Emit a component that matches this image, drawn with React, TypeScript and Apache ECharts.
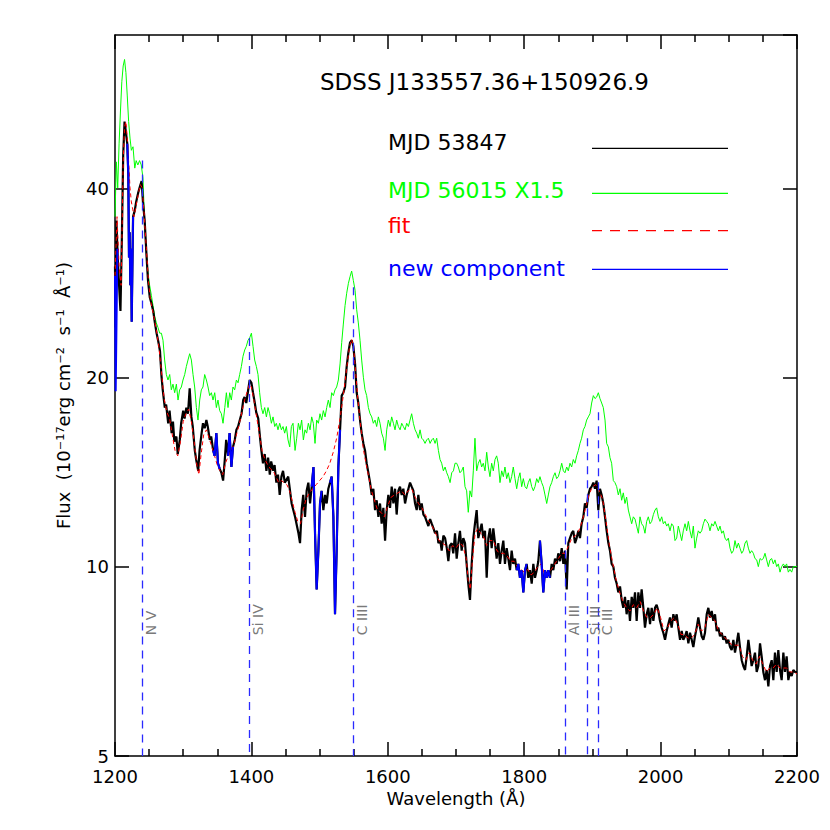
import React, { useEffect, useRef } from 'react';
import * as echarts from 'echarts';

// ---------------- DATA ----------------
const chartTitle = 'SDSS J133557.36+150926.9';
const legendLabels = ['MJD 53847', 'MJD 56015 X1.5', 'fit', 'new component'];
const xAxisName = 'Wavelength (Å)';
const yAxisName = 'Flux  (10⁻¹⁷erg cm⁻²  s⁻¹  Å⁻¹)';

// emission line markers
const lineNames = ['N V', 'Si IV', 'C IIII', 'Al III', 'Si III', 'C III'];
const lineWaves = [1240, 1397, 1549, 1860, 1892, 1909];
const lineTops = [44.2, 23.1, 27.8, 13.7, 16.0, 17.6];

// MJD 53847 spectrum [wavelength (Å), flux]
const blackSpectrum: [number, number][] = [
  [1200, 30], [1201, 24], [1202, 35.5], [1204, 31], [1206, 28], [1208, 25.5], [1210, 33], [1212, 45], [1214, 51], [1216, 49],
  [1218, 47], [1219.5, 42], [1220.5, 31], [1221.5, 34], [1222.5, 28], [1223.5, 32], [1224.5, 24.5], [1225.5, 30], [1226.5, 36],
  [1229, 36.8], [1231, 38], [1234, 39.3], [1236, 40], [1239, 41], [1241, 38], [1243.5, 35.5], [1246, 31.5], [1248.4, 28.5],
  [1251, 26.8], [1253.5, 26.2], [1256, 25.5], [1258.5, 24.4], [1261, 23.5], [1263.5, 22.8], [1266, 22], [1268, 20.2], [1270, 19.1],
  [1273, 17.9], [1275, 18.1], [1278, 16.9], [1280, 17.7], [1283, 16.3], [1285, 17.0], [1287, 15.8], [1290, 16.1], [1292, 15.1],
  [1295, 15.9], [1297, 16.9], [1300, 17.7], [1302, 17.2], [1304.6, 17.9], [1307, 17.5], [1309.5, 19.2], [1312, 17.3], [1314, 16.7],
  [1317, 15.3], [1319, 14.8], [1322, 14.2], [1324, 15.3], [1327, 16.3], [1329, 16.9], [1331.5, 16.6], [1334, 17.1], [1336, 16.7],
  [1339, 15.9], [1341, 16.1], [1344, 15.3], [1346, 15.0], [1348.6, 16.3], [1351, 14.6], [1353.5, 14.3], [1356, 14.1], [1358.5, 13.7],
  [1361, 14.8], [1363, 15.9], [1365.7, 15.0], [1368, 16.3], [1370.7, 14.4], [1373, 15.5], [1375.6, 15.9], [1378, 16.5], [1380.5, 16.7],
  [1383, 17.1], [1385.5, 17.5], [1388, 18.4], [1390, 18.6], [1392.5, 18.2], [1395, 19.0], [1397.5, 19.8], [1400, 19.6], [1402.4, 18.9],
  [1405, 18.2], [1407, 17.6], [1410, 17.2], [1412, 16.3], [1414.6, 15.3], [1417, 14.6], [1419.5, 15.1], [1422, 14.2], [1424.5, 14.9],
  [1427, 14.0], [1429, 14.7], [1432, 14.2], [1434, 14.5], [1436.6, 13.6], [1439, 14.0], [1441.5, 13.0], [1444, 13.9], [1446.4, 14.2],
  [1449, 13.6], [1454, 13.9], [1459, 12.6], [1464, 12.0], [1469, 11.3], [1471.3, 10.9], [1473.7, 12.3], [1476, 13.0], [1478.6, 12.0],
  [1481, 13.2], [1483.5, 13.6], [1486, 12.6], [1488.4, 13.4], [1491, 14.4], [1493.3, 11.3], [1495.7, 9.2], [1498.2, 10.6], [1500.6, 12.6],
  [1503, 13.2], [1505.5, 12.3], [1508, 13.0], [1510.4, 12.6], [1512.8, 13.3], [1515.3, 13.6], [1517.7, 13.9], [1520.2, 12.0], [1522.6, 8.4],
  [1525, 10.6], [1527.5, 14.4], [1530, 16.5], [1532.4, 18.7], [1534.8, 18.9], [1537.3, 19.3], [1539.7, 20.8], [1542.2, 21.9], [1544.6, 22.7],
  [1547, 22.9], [1549.5, 22.4], [1552, 21.0], [1554.4, 18.9], [1556.8, 18.2], [1559.3, 17.1], [1561.7, 16.3], [1564.2, 15.7], [1566.6, 15.3],
  [1569, 14.6], [1571.5, 14.1], [1574, 13.6], [1576.4, 13.0], [1578.8, 13.3], [1581.3, 12.3], [1583.7, 12.75], [1586.2, 12.0], [1588.6, 12.6],
  [1591, 11.7], [1593.5, 12.4], [1596, 11.0], [1598.4, 12.3], [1600.8, 13.0], [1603.3, 12.4], [1605.7, 13.4], [1608.2, 12.6], [1610.6, 13.3],
  [1613, 12.1], [1615.5, 13.2], [1617.9, 13.4], [1620.4, 13.0], [1622.8, 13.3], [1625.3, 12.6], [1627.7, 13.0], [1630.2, 13.3], [1632.6, 13.6],
  [1635, 13.4], [1637.5, 13.2], [1640, 12.6], [1642.4, 12.3], [1644.8, 13.0], [1647.3, 12.3], [1649.7, 12.6], [1652.2, 12.1], [1654.6, 12.0],
  [1657, 11.8], [1659.5, 11.6], [1662, 11.9], [1664.4, 11.7], [1667, 11.5], [1669.3, 11.3], [1672, 11.4], [1674.2, 10.9], [1677, 11.0],
  [1679, 10.6], [1681.5, 11.2], [1684, 11.1], [1686.5, 10.7], [1688.8, 10.2], [1691, 10.8], [1693.7, 10.9], [1696, 10.5], [1698.6, 11.3],
  [1701, 10.3], [1703.4, 10.9], [1705.8, 11.4], [1708.3, 10.6], [1710.7, 11.1], [1713.2, 10.9], [1715.6, 10.1], [1718, 9.4], [1720.5, 8.85],
  [1723, 10.1], [1725.4, 11.1], [1727.8, 11.7], [1730.3, 12.3], [1732.7, 11.1], [1735.2, 11.4], [1737.6, 11.7], [1740, 11.1], [1742.5, 11.4],
  [1745, 9.6], [1747.4, 11.1], [1749.8, 11.5], [1752.3, 10.7], [1754.7, 11.5], [1757.2, 10.9], [1759.6, 10.3], [1762, 10.9], [1764.5, 10.1],
  [1767, 10.6], [1769.4, 11.0], [1771.8, 10.1], [1774.3, 10.7], [1776.7, 10.3], [1779.2, 9.87], [1781.6, 10.6], [1784, 10.1], [1786.5, 10.3],
  [1789, 9.87], [1791.4, 10.1], [1793.8, 9.6], [1796.3, 9.87], [1798.7, 9.1], [1801.2, 9.87], [1803.6, 10.1], [1806, 9.6], [1808.5, 9.87],
  [1811, 9.4], [1813.4, 10.1], [1815.8, 9.6], [1818.3, 9.87], [1820.7, 10.2], [1823.1, 11.0], [1825.6, 10.1], [1828, 9.1], [1830.5, 9.87],
  [1833, 9.6], [1835.4, 9.87], [1837.8, 9.6], [1840.3, 10.1], [1842.7, 9.87], [1845.2, 10.3], [1847.6, 10.1], [1850, 10.5], [1852.5, 10.2],
  [1855, 10.7], [1857.4, 10.1], [1859.8, 10.6], [1862.3, 9.2], [1864.7, 10.9], [1867.1, 11.1], [1869.6, 11.3], [1872, 11.4], [1874.5, 10.9],
  [1876.9, 11.1], [1879.4, 11.4], [1881.8, 11.1], [1884.2, 11.7], [1886.7, 12.0], [1889.1, 12.6], [1891.6, 12.4], [1894, 13.0], [1896.5, 13.3],
  [1898.9, 13.4], [1901.4, 13.6], [1903.8, 13.3], [1906.2, 13.7], [1908.7, 12.3], [1911.1, 13.3], [1913.6, 13.0], [1916, 12.6], [1918.5, 12.0],
  [1920.9, 11.4], [1923.4, 10.9], [1925.8, 10.6], [1928.2, 10.1], [1930.7, 10.0], [1933.1, 9.6], [1935.6, 9.4], [1938, 9.1], [1940.5, 9.3],
  [1942.9, 8.85], [1945.3, 8.6], [1947.8, 8.95], [1950.2, 8.4], [1952.7, 8.85], [1955.1, 8.2], [1957.6, 8.95], [1960, 8.6], [1962.5, 9.1],
  [1964.9, 8.2], [1967.4, 9.1], [1969.8, 8.6], [1972.2, 9.2], [1974.7, 8.6], [1977.1, 8.0], [1979.6, 8.4], [1982, 8.6], [1984.5, 8.1],
  [1986.9, 8.6], [1989.4, 8.2], [1991.8, 8.6], [1994.2, 8.7], [1996.7, 8.5], [1999.1, 8.2], [2001.6, 8.0], [2004, 7.85], [2006.5, 7.65],
  [2008.9, 7.9], [2011.3, 8.1], [2013.8, 8.3], [2016.2, 8.0], [2018.7, 8.4], [2021.1, 8.2], [2023.6, 8.4], [2026, 8.0], [2028.5, 7.65],
  [2030.9, 7.9], [2033.3, 7.65], [2035.8, 7.75], [2038.2, 7.9], [2040.7, 7.55], [2043.1, 7.85], [2045.6, 7.65], [2048, 7.45], [2050.4, 7.75],
  [2052.9, 8.0], [2055.3, 8.3], [2057.8, 8.0], [2060.2, 7.75], [2062.7, 7.65], [2065.1, 7.85], [2067.6, 8.4], [2070, 8.6], [2072.4, 8.3],
  [2074.9, 8.5], [2077.3, 8.2], [2079.8, 8.4], [2082.2, 7.9], [2084.7, 8.0], [2087.1, 7.75], [2089.6, 7.85], [2092, 7.65], [2094.4, 7.75],
  [2096.9, 7.55], [2099.3, 7.65], [2101.8, 7.45], [2104.2, 7.37], [2106.7, 7.65], [2109.1, 7.3], [2111.5, 7.55], [2114, 7.85], [2116.4, 7.45],
  [2118.9, 7.1], [2121.3, 6.95], [2123.8, 6.85], [2126.2, 7.2], [2128.7, 7.65], [2131.1, 7.3], [2133.5, 6.95], [2136, 7.1], [2138.4, 7.3],
  [2140.9, 6.8], [2143.3, 6.95], [2145.8, 7.55], [2148.2, 7.2], [2150.6, 6.8], [2153.1, 6.6], [2155.5, 6.85], [2158, 6.45], [2160.4, 6.95],
  [2162.9, 7.1], [2165.3, 6.6], [2167.7, 7.3], [2170.2, 6.8], [2172.6, 7.37], [2175.1, 6.85], [2177.5, 6.6], [2180, 7.3], [2182.4, 6.8],
  [2184.8, 7.2], [2187.3, 6.6], [2189.7, 6.8], [2192.2, 6.7], [2194.6, 6.85], [2197, 6.8], [2200, 6.8],
];

// MJD 56015 spectrum x1.5
const greenSpectrum: [number, number][] = [
  [1200, 36], [1202, 44], [1204, 40], [1206, 47], [1208, 53], [1210, 59], [1212, 62.5], [1214, 64], [1216, 61], [1218, 56],
  [1220, 51], [1222, 48], [1224, 45.9], [1226.4, 46.5], [1229, 43], [1231, 44.2], [1233.5, 43.5], [1236, 44.2], [1238.5, 43.5],
  [1241, 41.5], [1243.5, 35], [1246, 31.6], [1248.4, 29.3], [1250.8, 28.0], [1253.3, 27.0], [1255.7, 26.0], [1258.2, 25.0], [1260.6, 24.4],
  [1263, 24.0], [1265.5, 23.5], [1268, 23.5], [1270.4, 22.9], [1272.8, 21.3], [1275.3, 20.2], [1277.7, 19.8], [1280.2, 20.2], [1282.6, 19.1],
  [1285, 19.5], [1287.5, 18.9], [1290, 19.5], [1292.4, 18.4], [1294.8, 19.1], [1297.3, 19.3], [1299.7, 19.8], [1302.2, 20.2], [1304.6, 20.8],
  [1307, 21.3], [1309.5, 21.8], [1312, 21.3], [1314.4, 20.2], [1316.8, 19.3], [1319.3, 17.9], [1321.7, 17.1], [1324.2, 18.4], [1326.6, 19.1],
  [1329, 19.3], [1331.5, 20.2], [1334, 19.8], [1336.4, 19.3], [1338.8, 18.7], [1341.3, 18.9], [1343.7, 18.4], [1346.2, 18.9], [1348.6, 17.9],
  [1351, 18.4], [1353.5, 17.7], [1356, 17.5], [1358.4, 16.9], [1361, 17.9], [1363.3, 18.9], [1365.7, 17.9], [1368.2, 18.9], [1370.6, 18.4],
  [1373, 19.3], [1375.5, 19.1], [1378, 19.8], [1380.4, 19.6], [1382.8, 20.2], [1385.3, 20.8], [1387.7, 21.6], [1390.2, 22.1], [1392.6, 22.4],
  [1395, 22.9], [1397.5, 23.1], [1400, 23.5], [1402.4, 22.4], [1404.8, 21.3], [1407.3, 20.8], [1409.7, 20.2], [1412.1, 18.9], [1414.6, 17.9],
  [1417, 17.5], [1419.5, 17.9], [1422, 17.3], [1424.4, 17.9], [1426.8, 17.5], [1429.3, 16.9], [1431.7, 17.3], [1434.2, 16.7], [1436.6, 16.9],
  [1439, 16.5], [1441.5, 16.9], [1444, 16.5], [1446.4, 16.7], [1448.8, 16.3], [1451.3, 16.7], [1453.7, 15.9], [1456.2, 15.5], [1458.6, 16.7],
  [1461, 16.9], [1464, 15.3], [1466.4, 16.0], [1468.9, 16.9], [1471.3, 16.5], [1473.7, 17.1], [1476.2, 15.9], [1478.6, 16.5], [1481, 16.3],
  [1483.5, 16.9], [1486, 16.5], [1488.4, 17.3], [1490.8, 16.9], [1493.3, 15.7], [1495.7, 17.1], [1498.2, 16.9], [1500.6, 17.5], [1503, 17.1],
  [1505.5, 17.7], [1508, 17.3], [1510.4, 17.9], [1512.8, 18.4], [1515.3, 17.9], [1517.7, 18.9], [1520.2, 18.7], [1522.6, 19.1], [1525, 19.3],
  [1527.5, 19.8], [1530, 21.0], [1532.4, 22.7], [1534.8, 24.3], [1537.3, 26.0], [1539.7, 27.2], [1542.2, 28.2], [1544.6, 28.9], [1547, 29.5],
  [1549.5, 28.5], [1552, 27.5], [1554.4, 25.6], [1556.8, 24.4], [1559.3, 22.9], [1561.7, 21.3], [1564.2, 20.0], [1566.6, 19.1], [1569, 18.7],
  [1571.5, 17.9], [1574, 17.5], [1576.4, 17.3], [1578.8, 16.9], [1581.3, 17.1], [1583.7, 16.7], [1586.2, 17.3], [1588.6, 16.9], [1591, 16.3],
  [1593.5, 16.0], [1596, 15.3], [1598.4, 16.5], [1600.8, 17.1], [1603.3, 16.7], [1605.7, 17.3], [1608.2, 16.9], [1610.6, 16.5], [1613, 17.1],
  [1615.5, 16.7], [1618, 16.5], [1620.4, 16.9], [1622.8, 16.7], [1625.3, 16.5], [1627.7, 16.9], [1630.2, 16.7], [1632.6, 17.1], [1635, 17.5],
  [1637.5, 16.9], [1640, 16.5], [1642.4, 16.3], [1644.8, 16.0], [1647.3, 16.5], [1649.7, 16.0], [1652.2, 15.9], [1654.6, 15.7], [1657, 15.9],
  [1659.5, 16.0], [1662, 15.7], [1664.4, 15.9], [1666.8, 16.0], [1669.3, 15.7], [1671.7, 16.0], [1674.2, 15.3], [1676.6, 14.8], [1679, 14.6],
  [1681.5, 14.2], [1684, 14.4], [1686.4, 14.1], [1688.8, 13.9], [1691.3, 13.6], [1693.7, 14.1], [1696.2, 14.2], [1698.6, 14.6], [1701, 14.6],
  [1703.4, 14.4], [1705.8, 14.1], [1708.3, 14.2], [1710.7, 14.4], [1713.2, 13.4], [1715.6, 13.2], [1718, 12.2], [1720.5, 13.2], [1723, 12.9],
  [1725.4, 14.2], [1727.8, 16.0], [1730.3, 14.2], [1732.7, 14.6], [1735.2, 14.8], [1737.6, 14.4], [1740, 14.6], [1742.5, 14.2], [1745, 15.2],
  [1747.4, 14.4], [1749.8, 13.9], [1752.3, 14.6], [1754.7, 14.2], [1757.2, 14.8], [1759.6, 15.0], [1762, 14.6], [1764.5, 13.6], [1767, 14.2],
  [1769.4, 13.9], [1771.8, 14.4], [1774.3, 13.8], [1776.7, 14.1], [1779.2, 13.6], [1781.6, 13.9], [1784, 14.4], [1786.5, 13.8], [1789, 13.3],
  [1791.4, 13.8], [1793.8, 14.1], [1796.3, 13.4], [1798.7, 13.8], [1801.2, 13.4], [1803.6, 13.3], [1806, 13.6], [1808.5, 13.8], [1811, 13.4],
  [1813.4, 13.2], [1815.8, 13.4], [1818.3, 13.8], [1820.7, 13.6], [1823.1, 13.9], [1825.6, 13.6], [1828, 13.4], [1830.5, 13.0], [1833, 12.6],
  [1835.4, 13.0], [1837.8, 13.4], [1840.3, 13.6], [1842.7, 13.9], [1845.2, 14.1], [1847.6, 13.8], [1850, 13.9], [1852.5, 14.2], [1855, 14.6],
  [1857.4, 14.2], [1859.8, 14.1], [1862.3, 14.4], [1864.7, 14.2], [1867.1, 14.6], [1869.6, 14.4], [1872, 14.8], [1874.5, 14.6], [1876.9, 15.0],
  [1879.4, 15.3], [1881.8, 15.7], [1884.2, 16.0], [1886.7, 16.5], [1889.1, 16.7], [1891.6, 17.1], [1894, 17.3], [1896.5, 17.5], [1898.9, 18.2],
  [1901.4, 18.7], [1903.8, 18.5], [1906.2, 18.6], [1908.7, 18.9], [1911.1, 18.5], [1913.6, 18.2], [1916, 17.9], [1918.5, 17.1], [1920.9, 15.7],
  [1923.4, 15.5], [1925.8, 14.9], [1928.2, 14.6], [1930.7, 13.7], [1933.1, 13.6], [1935.6, 13.4], [1938, 13.0], [1940.5, 13.3], [1942.9, 12.75],
  [1945.3, 13.1], [1947.8, 12.6], [1950.2, 12.9], [1952.7, 12.3], [1955.1, 12.0], [1957.6, 11.7], [1960, 12.0], [1962.5, 11.9], [1964.9, 11.6],
  [1967.4, 11.3], [1969.8, 12.0], [1972.2, 11.7], [1974.7, 11.6], [1977.1, 11.3], [1979.6, 11.8], [1982, 12.0], [1984.5, 11.7], [1986.9, 11.8],
  [1989.4, 12.1], [1991.8, 12.3], [1994.2, 12.4], [1996.7, 12.0], [1999.1, 11.8], [2001.6, 12.0], [2004, 11.7], [2006.5, 11.8], [2008.9, 11.6],
  [2011.3, 11.7], [2013.8, 11.4], [2016.2, 11.7], [2018.7, 11.6], [2021.1, 11.0], [2023.6, 11.1], [2026, 11.6], [2028.5, 11.3], [2030.9, 11.0],
  [2033.3, 11.4], [2035.8, 11.7], [2038.2, 11.4], [2040.7, 11.8], [2043.1, 11.4], [2045.6, 11.1], [2048, 11.6], [2050.4, 10.7], [2052.9, 11.1],
  [2055.3, 11.4], [2057.8, 11.3], [2060.2, 11.4], [2062.7, 11.7], [2065.1, 11.9], [2067.6, 11.8], [2070, 11.7], [2072.4, 11.4], [2074.9, 11.7],
  [2077.3, 11.6], [2079.8, 11.8], [2082.2, 11.6], [2084.7, 11.4], [2087.1, 11.6], [2089.6, 11.3], [2092, 11.4], [2094.4, 11.1], [2096.9, 11.0],
  [2099.3, 11.1], [2101.8, 10.7], [2104.2, 10.5], [2106.7, 10.6], [2109.1, 11.0], [2111.5, 10.7], [2114, 10.9], [2116.4, 10.7], [2118.9, 10.5],
  [2121.3, 10.6], [2123.8, 10.9], [2126.2, 11.0], [2128.7, 10.7], [2131.1, 10.5], [2133.5, 10.6], [2136, 10.5], [2138.4, 10.3], [2140.9, 10.25],
  [2143.3, 10.0], [2145.8, 10.3], [2148.2, 10.25], [2150.6, 10.3], [2153.1, 10.5], [2155.5, 10.25], [2158, 10.0], [2160.4, 10.25], [2162.9, 10.3],
  [2165.3, 10.1], [2167.7, 10.25], [2170.2, 10.0], [2172.6, 10.1], [2175.1, 9.8], [2177.5, 10.0], [2180, 10.1], [2182.4, 10.0], [2184.8, 10.1],
  [2187.3, 9.8], [2189.7, 9.9], [2192.2, 9.8], [2194.6, 10.0], [2197, 10.0], [2200, 10.0],
];

// fit
const fitSpectrum: [number, number][] = [
  [1200, 29], [1203, 36], [1206, 30], [1209, 28], [1212, 44], [1214, 50], [1216, 51], [1218, 48], [1220, 44], [1222, 40], [1224, 38],
  [1226, 37], [1228, 36], [1231, 37.5], [1234, 39], [1237, 40.5], [1240, 40], [1243, 36], [1246, 32], [1249, 28.5], [1252, 26.5],
  [1256, 25.3], [1260, 24], [1264, 22.5], [1268, 20.5], [1272, 18.5], [1276, 17.6], [1280, 17.2], [1284, 16.2], [1288, 15.3], [1292, 15.0],
  [1296, 15.8], [1300, 17.0], [1304, 17.5], [1308, 17.8], [1312, 17.0], [1316, 15.8], [1320, 14.5], [1323, 14.0], [1326, 15.0], [1330, 16.2],
  [1334, 16.5], [1338, 16.0], [1342, 15.5], [1346, 15.0], [1350, 14.5], [1354, 14.2], [1358, 14.0], [1362, 14.6], [1366, 15.0], [1370, 15.3],
  [1374, 15.6], [1378, 16.2], [1382, 16.8], [1386, 17.6], [1390, 18.4], [1394, 19.0], [1397, 19.5], [1400, 19.3], [1404, 18.3], [1408, 17.2],
  [1412, 16.2], [1416, 15.2], [1420, 14.8], [1424, 14.5], [1428, 14.3], [1432, 14.2], [1436, 13.9], [1440, 13.6], [1444, 13.7], [1448, 13.6],
  [1452, 13.5], [1456, 13.2], [1460, 12.7], [1464, 12.2], [1468, 11.8], [1472, 11.7], [1476, 12.3], [1480, 12.8], [1485, 13.1], [1490, 13.3],
  [1495, 13.5], [1500, 13.7], [1505, 13.9], [1510, 14.2], [1515, 14.6], [1520, 15.2], [1525, 16.0], [1530, 17.2], [1535, 18.8], [1540, 20.8],
  [1544, 22.4], [1547, 23.0], [1550, 22.2], [1553, 20.3], [1556, 18.5], [1560, 16.8], [1564, 15.4], [1568, 14.6], [1572, 13.9], [1576, 13.2],
  [1580, 12.8], [1585, 12.3], [1590, 12.2], [1595, 12.0], [1600, 12.5], [1605, 12.9], [1610, 13.0], [1615, 13.1], [1620, 13.2], [1625, 13.0],
  [1630, 13.2], [1635, 13.3], [1640, 12.9], [1645, 12.6], [1650, 12.4], [1655, 12.1], [1660, 11.8], [1665, 11.6], [1670, 11.3], [1675, 11.0],
  [1680, 10.9], [1685, 10.8], [1690, 10.6], [1695, 10.8], [1700, 10.7], [1705, 10.9], [1710, 10.8], [1715, 10.3], [1718, 9.5], [1721, 9.2],
  [1724, 10.2], [1728, 11.3], [1732, 11.5], [1736, 11.3], [1740, 11.2], [1745, 10.8], [1750, 11.0], [1755, 11.0], [1760, 10.6], [1765, 10.5],
  [1770, 10.5], [1775, 10.4], [1780, 10.2], [1785, 10.2], [1790, 10.0], [1795, 9.9], [1800, 9.8], [1805, 9.9], [1810, 9.7], [1815, 9.8],
  [1820, 10.0], [1825, 10.1], [1830, 9.7], [1835, 9.8], [1840, 9.9], [1845, 10.1], [1850, 10.3], [1855, 10.5], [1860, 10.5], [1865, 10.8],
  [1870, 11.1], [1875, 11.2], [1880, 11.4], [1885, 11.8], [1890, 12.4], [1895, 13.0], [1900, 13.4], [1905, 13.5], [1910, 13.2], [1915, 12.8],
  [1920, 11.8], [1925, 10.8], [1930, 10.1], [1935, 9.5], [1940, 9.1], [1945, 8.8], [1950, 8.6], [1955, 8.5], [1960, 8.7], [1965, 8.6],
  [1970, 8.8], [1975, 8.5], [1980, 8.3], [1985, 8.3], [1990, 8.4], [1995, 8.6], [2000, 8.3], [2005, 7.9], [2010, 8.0], [2015, 8.2], [2020, 8.3],
  [2025, 8.1], [2030, 7.8], [2035, 7.8], [2040, 7.7], [2045, 7.7], [2050, 7.8], [2055, 8.1], [2060, 7.9], [2065, 8.0], [2070, 8.4], [2075, 8.3],
  [2080, 8.2], [2085, 7.9], [2090, 7.8], [2095, 7.7], [2100, 7.6], [2105, 7.5], [2110, 7.5], [2115, 7.5], [2120, 7.2], [2125, 7.1], [2130, 7.3],
  [2135, 7.1], [2140, 7.0], [2145, 7.2], [2150, 7.0], [2155, 6.8], [2160, 6.9], [2165, 6.9], [2170, 7.0], [2175, 6.9], [2180, 6.9], [2185, 6.9],
  [2190, 6.8], [2195, 6.8], [2200, 6.75],
];

// new component (absorbed pixels), separate segments
const newComponentSegments: [number, number][][] = [
  [[1200, 29], [1201, 19], [1202.5, 26], [1203.5, 32]],
  [[1218, 47], [1219.5, 42], [1220.5, 31], [1221.5, 34], [1222.5, 28], [1223.5, 32], [1224.5, 24.5], [1225.5, 30], [1226.5, 36]],
  [[1344, 15.3], [1346, 15.0], [1348.6, 16.3], [1351, 14.6], [1353.5, 14.3]],
  [[1365.7, 15.0], [1368, 16.3], [1370.7, 14.4], [1373, 15.5]],
  [[1488.4, 13.4], [1491, 14.4], [1493.3, 11.3], [1495.7, 9.2], [1498.2, 10.6], [1500.6, 12.6], [1503, 13.2]],
  [[1515.3, 13.6], [1517.7, 13.9], [1520.2, 12.0], [1522.6, 8.4], [1525, 10.6], [1527.5, 14.4], [1530, 16.5]],
  [[1789, 9.87], [1791.4, 10.1], [1793.8, 9.6], [1796.3, 9.87], [1798.7, 9.1], [1801.2, 9.87], [1803.6, 10.1]],
  [[1823.1, 11.0], [1825.6, 10.1], [1828, 9.1], [1830.5, 9.87], [1833, 9.6], [1835.4, 9.87], [1837.8, 9.6]],
];

// ---------------- STYLE ----------------
const FONT = '"DejaVu Sans", sans-serif';
const X_MIN = 1200;
const X_MAX = 2200;
const Y_MIN = 5;
const Y_MAX = 70;
const LABEL_DX = 12.5; // Å to the right of marker line
const LABEL_FLUX = 7.78; // bottom of rotated marker labels

function makeOption() {
  const axisLine = { show: true, onZero: false, lineStyle: { color: '#000', width: 1.5 } };
  const xBase = {
    type: 'value',
    min: X_MIN,
    max: X_MAX,
    interval: 200,
    axisLine,
    axisTick: { show: true, inside: true, length: 14, lineStyle: { color: '#000', width: 1.5 } },
    minorTick: { show: true, splitNumber: 4, length: 7, lineStyle: { color: '#000', width: 1.5 } },
    splitLine: { show: false },
    minorSplitLine: { show: false },
  };
  const yBase = {
    type: 'log',
    logBase: 2,
    min: Y_MIN,
    max: Y_MAX,
    interval: 1,
    axisLine,
    axisTick: { show: true, inside: true, length: 14, lineStyle: { color: '#000', width: 1.5 } },
    splitLine: { show: false },
  };

  const legendX = 388;
  const lineX1 = 592;
  const lineX2 = 728;
  const legendRows = [
    { y: 142.5, lineY: 148.3, color: '#000000', dash: null as any },
    { y: 190.5, lineY: 193.3, color: '#00ff00', dash: null as any },
    { y: 225.5, lineY: 230.7, color: '#ff0000', dash: [10, 8] },
    { y: 268, lineY: 269.3, color: '#0000ff', dash: null as any },
  ];
  const graphics: any[] = [
    {
      type: 'text',
      left: 320,
      top: 70,
      style: { text: chartTitle, font: `23px ${FONT}`, fill: '#000' },
      silent: true,
    },
  ];
  legendRows.forEach((r, i) => {
    graphics.push({
      type: 'text',
      x: legendX,
      y: r.y,
      style: { text: legendLabels[i], font: `22px ${FONT}`, fill: r.color, verticalAlign: 'middle', align: 'left' },
      silent: true,
    });
    graphics.push({
      type: 'line',
      shape: { x1: lineX1, y1: r.lineY, x2: lineX2, y2: r.lineY },
      style: { stroke: r.color, lineWidth: 1.2, lineDash: r.dash || undefined },
      silent: true,
    });
  });

  const series: any[] = [
    {
      name: legendLabels[1],
      type: 'line',
      data: greenSpectrum,
      showSymbol: false,
      symbol: 'none',
      lineStyle: { color: '#00ff00', width: 1 },
      z: 2,
      silent: true,
    },
    {
      name: legendLabels[0],
      type: 'line',
      data: blackSpectrum,
      showSymbol: false,
      symbol: 'none',
      lineStyle: { color: '#000000', width: 2.2 },
      z: 3,
      silent: true,
    },
    {
      name: legendLabels[2],
      type: 'line',
      data: fitSpectrum,
      showSymbol: false,
      symbol: 'none',
      lineStyle: { color: '#ff0000', width: 1, type: [4, 3] },
      z: 4,
      silent: true,
      markLine: {
        silent: true,
        symbol: ['none', 'none'],
        label: { show: false },
        z: 10,
        lineStyle: { color: '#2a2aff', width: 1.3, type: [8, 6] },
        data: lineWaves.map((w, i) => [{ coord: [w, lineTops[i]] }, { coord: [w, Y_MIN] }]),
      },
    },
    ...newComponentSegments.map((seg) => ({
      name: legendLabels[3],
      type: 'line',
      data: seg,
      showSymbol: false,
      symbol: 'none',
      lineStyle: { color: '#0000ff', width: 2 },
      z: 5,
      silent: true,
    })),
    {
      type: 'scatter',
      data: lineWaves.map((w, i) => ({ value: [w + LABEL_DX, LABEL_FLUX], name: lineNames[i] })),
      symbolSize: 0,
      silent: true,
      z: 11,
      itemStyle: { color: 'rgba(0,0,0,0)' },
      label: {
        show: true,
        formatter: '{b}',
        position: 'inside',
        rotate: 90,
        align: 'left',
        verticalAlign: 'middle',
        color: '#555555',
        fontSize: 14,
        fontFamily: FONT,
      },
    },
  ];

  return {
    animation: false,
    backgroundColor: '#ffffff',
    grid: { left: 115, right: 33, top: 35, bottom: 74, containLabel: false, outerBoundsMode: 'none' },
    xAxis: [
      {
        ...xBase,
        position: 'bottom',
        axisLabel: {
          show: true,
          margin: 11,
          color: '#000',
          fontSize: 18,
          fontFamily: FONT,
          showMinLabel: true,
          showMaxLabel: true,
          formatter: (v: number) => String(Math.round(v)),
        },
        name: xAxisName,
        nameLocation: 'middle',
        nameGap: 32,
        nameTextStyle: { color: '#000', fontSize: 18, fontFamily: FONT },
      },
      { ...xBase, position: 'top', axisLabel: { show: false } },
    ],
    yAxis: [
      {
        ...yBase,
        position: 'left',
        axisLabel: {
          show: true,
          margin: 6,
          color: '#000',
          fontSize: 18,
          fontFamily: FONT,
          showMaxLabel: false,
          formatter: (v: number) => String(Math.round(v)),
        },
        name: yAxisName,
        nameLocation: 'middle',
        nameGap: 43,
        nameTextStyle: { color: '#000', fontSize: 18, fontFamily: FONT },
      },
      { ...yBase, position: 'right', axisLabel: { show: false } },
    ],
    graphic: graphics,
    series,
  };
}

export default function App() {
  const ref = useRef<HTMLDivElement>(null);
  useEffect(() => {
    document.body.style.margin = '0';
    const chart = echarts.init(ref.current as HTMLDivElement, null, { renderer: 'svg' });
    chart.setOption(makeOption() as any);
    return () => {
      chart.dispose();
    };
  }, []);
  return <div ref={ref} style={{ width: 830, height: 830 }} />;
}
